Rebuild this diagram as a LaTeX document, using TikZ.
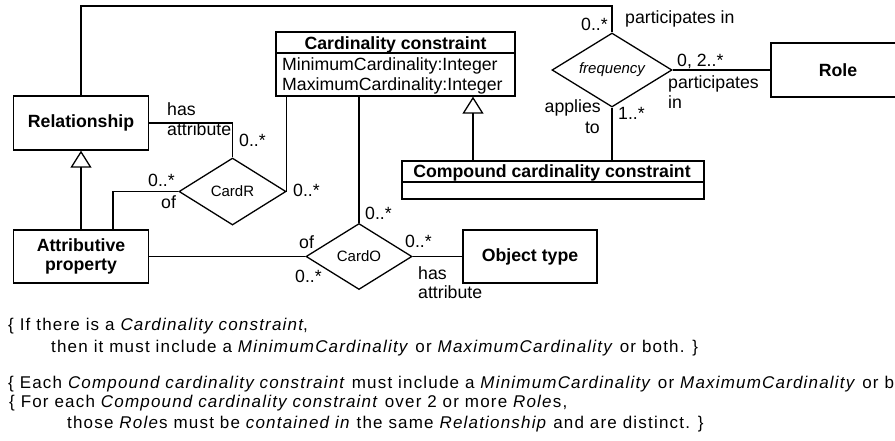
\documentclass[tikz,border=0pt]{standalone}
\usepackage{fontspec}
\setmainfont{Liberation Sans}
\newfontfamily\bottomfont[LetterSpace=7]{Liberation Sans}
\usetikzlibrary{shapes.geometric,arrows.meta}
\tikzset{
  ln/.style={line width=1.3pt},
  box/.style={draw, ln, rectangle, inner sep=0pt, font=\fontsize{17.7}{19.5}\selectfont\bfseries, align=center},
  frame/.style={draw, ln, rectangle, inner sep=0pt},
  dia/.style={draw, ln, diamond, aspect=1.6, inner sep=0pt, fill=white, font=\fontsize{15}{17}\selectfont},
  lab/.style={inner sep=0pt, anchor=base west, font=\fontsize{17.7}{20}\selectfont},
  labr/.style={inner sep=0pt, anchor=base east, font=\fontsize{17.7}{20}\selectfont},
  labb/.style={inner sep=0pt, anchor=base, font=\fontsize{17.7}{20}\selectfont\bfseries},
  note/.style={inner sep=0pt, anchor=base west, font=\bottomfont\fontsize{17}{20}\selectfont},
  gen/.style={ln, -{Triangle[open, length=17pt, width=21pt]}}
}
\begin{document}
\begin{tikzpicture}[x=1pt, y=-1pt]
\useasboundingbox (0,0) rectangle (895,440);
\clip (0,0) rectangle (895,440);
\fill[white] (0,0) rectangle (895,440);

% classes
\node[box, minimum width=135, minimum height=54] (rel) at (81,123) {Relationship};
\node[box, minimum width=135, minimum height=53] (ap) at (81,256.5) {Attributive\\property};
\node[box, minimum width=134, minimum height=53] (obj) at (530,256.5) {Object type};
\node[box, minimum width=134, minimum height=54] (role) at (838,70) {Role};

\node[frame, minimum width=239, minimum height=64] (cc) at (395.5,64) {};
\coordinate (ccsep) at (0,53);
\draw[ln] (cc.west |- ccsep) -- (cc.east |- ccsep);
\node[labb] (cct) at (395.5,49) {Cardinality constraint};
\node[lab] (cca1) at (282,70) {MinimumCardinality:Integer};
\node[lab] (cca2) at (282,90) {MaximumCardinality:Integer};

\node[frame, minimum width=302, minimum height=38] (ccc) at (553,180) {};
\coordinate (cccsep) at (0,182);
\draw[ln] (ccc.west |- cccsep) -- (ccc.east |- cccsep);
\node[labb] (ccct) at (552,177) {Compound cardinality constraint};

% relationships (diamonds)
\node[dia, minimum width=107, minimum height=67] (cardr) at (232.5,191.5) {CardR};
\node[dia, minimum width=106, minimum height=66] (cardo) at (359,256.5) {CardO};
\node[dia, minimum width=120, minimum height=74, font=\fontsize{15}{17}\selectfont\itshape] (freq) at (612,70) {frequency};

% connectors
\coordinate (topy) at (0,6);
\draw[ln] (rel.north) -- (rel.north |- topy) -- (freq.north |- topy) -- (freq.north);
\draw[gen] (ap.north) -- (rel.south);
\draw[ln] (rel.east) -| (cardr.north);
\draw[ln] ([xshift=32pt]ap.north) |- (cardr.west);
\draw[ln] (cardr.east) -- (cardr.east |- cc.south);
\draw[ln] (cardo.north) -- (cardo.north |- cc.south);
\draw[ln] (ap.east) -- (cardo.west);
\draw[ln] (cardo.east) -- (obj.west);
\draw[gen] ([xshift=-80pt]ccc.north) -- ([xshift=-80pt]ccc.north |- cc.south);
\draw[ln] (freq.south) -- (freq.south |- ccc.north);
\draw[ln] (freq.east) -- (role.west);

% labels
\node[lab] (l1) at (167,115) {has};
\node[lab] (l2) at (167,135) {attribute};
\node[lab] (l3) at (239,146) {0..*};
\node[lab] (l4) at (148,186) {0..*};
\node[lab] (l5) at (161,208) {of};
\node[lab] (l6) at (293,196) {0..*};
\node[lab] (l7) at (365,219) {0..*};
\node[lab] (l8) at (299,248) {of};
\node[lab] (l9) at (295,282) {0..*};
\node[lab] (l10) at (405,247) {0..*};
\node[lab] (l11) at (418,279) {has};
\node[lab] (l12) at (418,298) {attribute};
\node[lab] (l13) at (581,30) {0..*};
\node[lab] (l14) at (625,23) {participates in};
\node[lab] (l15) at (677,66) {0, 2..*};
\node[lab] (l16) at (668,88) {participates};
\node[lab] (l17) at (668,108) {in};
\node[labr] (l18) at (601,112) {applies};
\node[labr] (l19) at (600,133) {to};
\node[lab] (l20) at (618,119) {1..*};

% constraints
\node[note] (n1) at (8,330) {\{ If there is a \textit{Cardinality constraint},};
\node[note] (n2) at (51,352) {then it must include a \textit{MinimumCardinality} or \textit{MaximumCardinality} or both. \}};
\node[note] (n3) at (8,388) {\{ Each \textit{Compound cardinality constraint} must include a \textit{MinimumCardinality} or \textit{MaximumCardinality} or both. \}};
\node[note] (n4) at (9,407) {\{ For each \textit{Compound cardinality constraint} over 2 or more \textit{Role}s,};
\node[note] (n5) at (67,428) {those \textit{Role}s must be \textit{contained in} the same \textit{Relationship} and are distinct. \}};
\end{tikzpicture}
\end{document}
